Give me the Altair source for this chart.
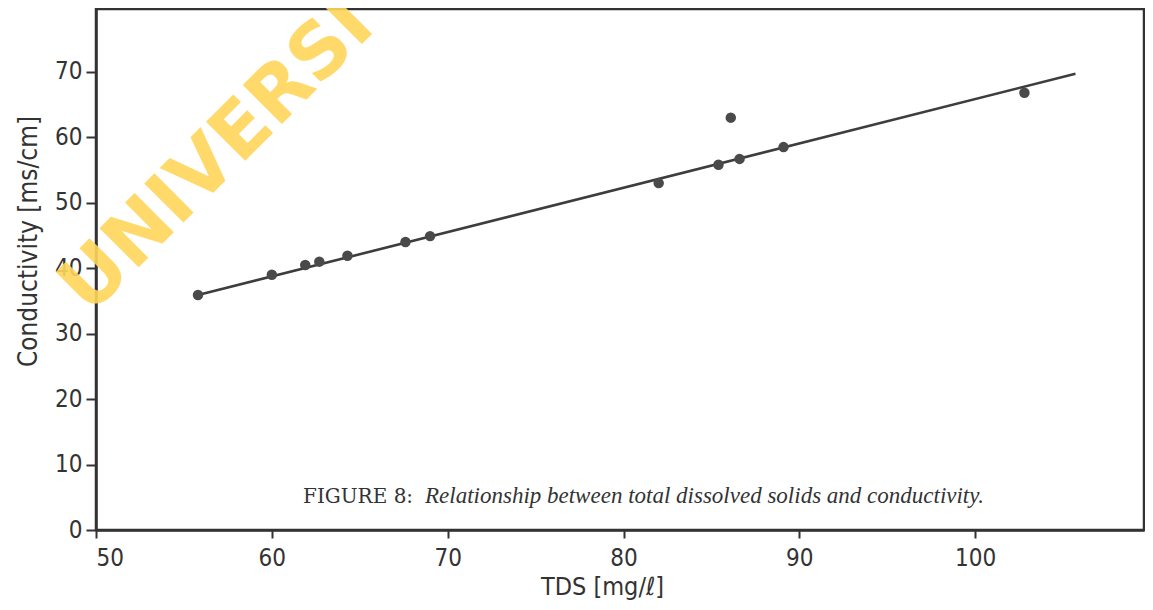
import altair as alt
import pandas as pd

# Data
tds = [55.8, 60.0, 61.9, 62.7, 64.3, 67.6, 69.0, 82.0, 85.4, 86.1, 86.6, 89.1, 102.8]
cond = [35.9, 39.0, 40.5, 41.0, 41.9, 44.0, 44.9, 53.0, 55.8, 63.0, 56.7, 58.5, 66.8]

line_x = [55.8, 105.7]
line_y = [35.9, 69.7]

x_ticks = [50, 60, 70, 80, 90, 100]
y_ticks = [0, 10, 20, 30, 40, 50, 60, 70]

caption_a = "FIGURE 8:"
caption_b = "Relationship between total dissolved solids and conductivity."
watermark = "UNIVERSI"

pts = pd.DataFrame({"tds": tds, "cond": cond})
fit = pd.DataFrame({"tds": line_x, "cond": line_y})

LABEL_FONT = "DejaVu Sans Condensed, Liberation Sans Narrow, DejaVu Sans"
INK = "#333333"

xscale = alt.Scale(domain=[50, 109.6], nice=False, zero=False)
yscale = alt.Scale(domain=[0, 79.6], nice=False)

xaxis = alt.Axis(
    values=x_ticks, title="TDS [mg/ℓ]", grid=False,
    labelFont=LABEL_FONT, labelFontSize=24, labelColor=INK, labelPadding=8,
    labelBaseline="top",
    tickSize=8, tickWidth=2, tickColor=INK,
    domainColor=INK, domainWidth=2.5,
    titleFont=LABEL_FONT, titleFontSize=25, titleFontWeight="normal", titleColor=INK,
    titleX=506, titleY=56, titleBaseline="middle", titleAlign="center",
)
yaxis = alt.Axis(
    values=y_ticks, title="Conductivity [ms/cm]", grid=False,
    labelFont=LABEL_FONT, labelFontSize=24, labelColor=INK, labelPadding=4,
    tickSize=10, tickWidth=2, tickColor=INK,
    domainColor=INK, domainWidth=2.5,
    titleFont=LABEL_FONT, titleFontSize=26, titleFontWeight="normal", titleColor=INK,
    titleX=-68, titleY=232, titleAngle=270, titleBaseline="middle", titleAlign="center",
)

line = alt.Chart(fit).mark_line(color="#3d3d3d", strokeWidth=2.6).encode(
    x=alt.X("tds:Q", scale=xscale, axis=xaxis),
    y=alt.Y("cond:Q", scale=yscale, axis=yaxis),
)

points = alt.Chart(pts).mark_circle(size=110, color="#4a4a4a", opacity=1).encode(
    x=alt.X("tds:Q", scale=xscale),
    y=alt.Y("cond:Q", scale=yscale),
)

cap1 = alt.Chart(pd.DataFrame({"t": [caption_a]})).mark_text(
    font="DejaVu Serif", fontSize=20, color=INK, align="left", baseline="alphabetic"
).encode(x=alt.value(207), y=alt.value(494), text="t:N")

cap2 = alt.Chart(pd.DataFrame({"t": [caption_b]})).mark_text(
    font="Liberation Serif", fontSize=23, fontStyle="italic", color=INK,
    align="left", baseline="alphabetic"
).encode(x=alt.value(329), y=alt.value(494), text="t:N")

wm = alt.Chart(pd.DataFrame({"t": [watermark]})).mark_text(
    font="DejaVu Sans", fontSize=76, fontWeight="bold",
    color="#FFD65C", opacity=0.9,
    align="left", baseline="alphabetic", angle=315
).encode(x=alt.value(-6), y=alt.value(307), text="t:N")

chart = alt.layer(line, points, cap1, cap2, wm).properties(
    width=1048, height=521,
    autosize=alt.AutoSizeParams(type="none"),
    padding={"left": 88, "top": 1, "right": 1, "bottom": 76},
    background="white",
).configure_view(stroke=INK, strokeWidth=2.5)

chart.save("out.html", embed_options={"renderer": "svg", "actions": False})
